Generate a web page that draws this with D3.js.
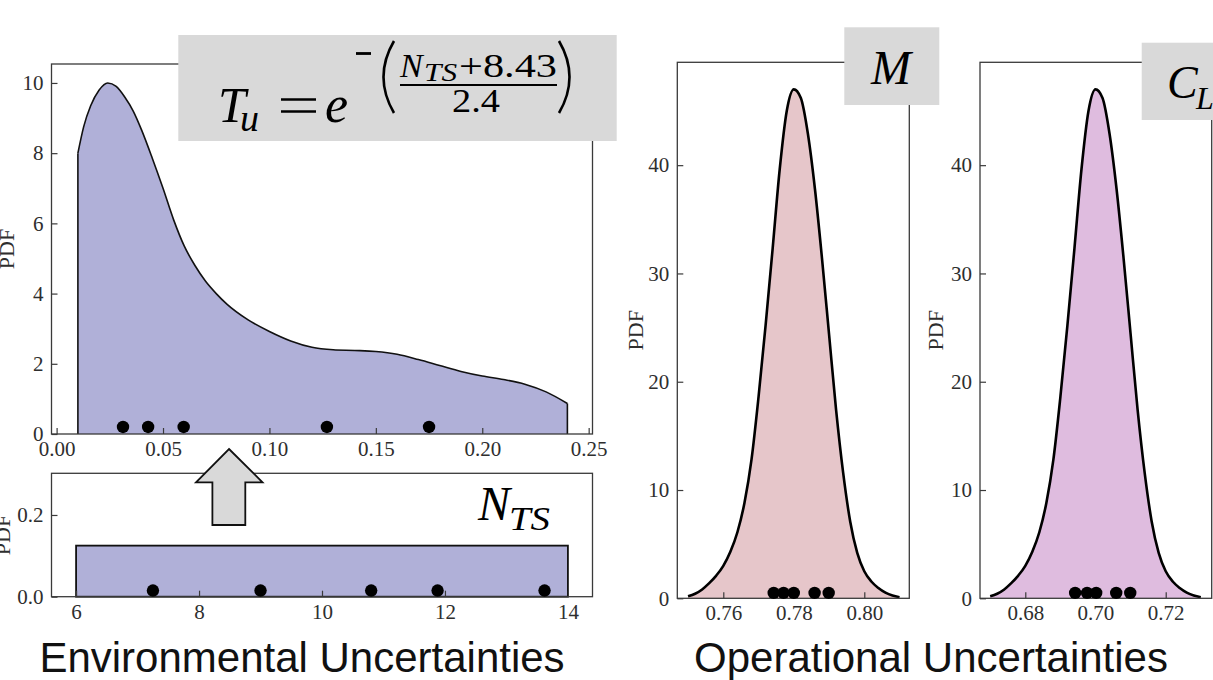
<!DOCTYPE html>
<html>
<head>
<meta charset="utf-8">
<script src="https://cdn.jsdelivr.net/npm/d3@7"></script>
<style>
  html, body { margin: 0; padding: 0; background: #ffffff; }
  svg { display: block; }
</style>
</head>
<body>
<svg id="chart" width="1213" height="680"></svg>
<script>
// ---------------- DATA ----------------
// Tu (top-left) density curve
const tuX   = [0.010, 0.0127, 0.016, 0.020, 0.024, 0.028, 0.032, 0.036, 0.040, 0.045, 0.050, 0.055, 0.060, 0.065, 0.070, 0.075, 0.080, 0.090, 0.100, 0.110, 0.120, 0.130, 0.140, 0.150, 0.160, 0.170, 0.180, 0.190, 0.200, 0.210, 0.220, 0.230, 0.240];
const tuPdf = [8.0, 8.75, 9.35, 9.8, 10.0, 9.9, 9.6, 9.2, 8.65, 7.85, 7.0, 6.1, 5.35, 4.8, 4.35, 4.0, 3.7, 3.25, 2.92, 2.65, 2.47, 2.4, 2.38, 2.35, 2.27, 2.12, 1.95, 1.78, 1.65, 1.55, 1.42, 1.2, 0.87];
const tuSamples = [0.0312, 0.0430, 0.0597, 0.1270, 0.1750];
const tuSampleLevel = 0.2;
const tuXTicks = [0.00, 0.05, 0.10, 0.15, 0.20, 0.25];
const tuYTicks = [0, 2, 4, 6, 8, 10];

// N_TS (bottom-left) uniform density
const ntsRange = [6, 14];
const ntsPdf = 0.125;
const ntsSamples = [7.25, 9.0, 10.8, 11.88, 13.62];
const ntsSampleLevel = 0.015;
const ntsXTicks = [6, 8, 10, 12, 14];
const ntsYTicks = [0.0, 0.2];

// M density
const mX   = [0.750, 0.752, 0.754, 0.756, 0.758, 0.760, 0.762, 0.764, 0.766, 0.768, 0.770, 0.772, 0.774, 0.776, 0.778, 0.780, 0.782, 0.784, 0.786, 0.788, 0.790, 0.792, 0.794, 0.796, 0.798, 0.800, 0.802, 0.804, 0.806, 0.808, 0.810];
const mPdf = [0.18, 0.42, 0.82, 1.4, 2.1, 3.0, 4.3, 6.1, 8.8, 12.8, 18.6, 25.2, 32.3, 39.6, 45.0, 47.0, 46.2, 42.9, 37.8, 31.4, 24.4, 17.4, 11.6, 7.1, 4.2, 2.5, 1.55, 0.95, 0.52, 0.25, 0.1];
const mSamples = [0.7743, 0.7771, 0.7800, 0.7859, 0.7899];
const mSampleLevel = 0.5;
const mXTicks = [0.76, 0.78, 0.80];
const mYTicks = [0, 10, 20, 30, 40];

// C_L density
const clX   = [0.670, 0.672, 0.674, 0.676, 0.678, 0.680, 0.682, 0.684, 0.686, 0.688, 0.690, 0.692, 0.694, 0.696, 0.698, 0.700, 0.702, 0.704, 0.706, 0.708, 0.710, 0.712, 0.714, 0.716, 0.718, 0.720, 0.722, 0.724, 0.726, 0.728, 0.730];
const clPdf = [0.18, 0.42, 0.82, 1.4, 2.1, 3.0, 4.3, 6.1, 8.8, 12.8, 18.6, 25.2, 32.3, 39.6, 45.0, 47.0, 46.2, 42.9, 37.8, 31.4, 24.4, 17.4, 11.6, 7.1, 4.2, 2.5, 1.55, 0.95, 0.52, 0.25, 0.1];
const clSamples = [0.6942, 0.6976, 0.7002, 0.7059, 0.7099];
const clSampleLevel = 0.5;
const clXTicks = [0.68, 0.70, 0.72];
const clYTicks = [0, 10, 20, 30, 40];

const yLabel = "PDF";
const leftTitle = "Environmental Uncertainties";
const rightTitle = "Operational Uncertainties";

// ---------------- DRAW ----------------
const svg = d3.select("#chart");
const SERIF = "'Liberation Serif', 'DejaVu Serif', serif";
const SANS = "'Liberation Sans', Arial, sans-serif";
const SPINE = "#3a3a3a";
const TICKTXT = "#2e2e2e";

function makePanel(cfg) {
  const x = d3.scaleLinear().domain(cfg.xDomain).range([cfg.left, cfg.right]);
  const y = d3.scaleLinear().domain(cfg.yDomain).range([cfg.bottom, cfg.top]);
  const g = svg.append("g");
  return {x, y, g, cfg};
}

function finishPanel(p, opts) {
  const {x, y, g, cfg} = p;
  g.append("rect")
    .attr("x", cfg.left).attr("y", cfg.top)
    .attr("width", cfg.right - cfg.left).attr("height", cfg.bottom - cfg.top)
    .attr("fill", "none").attr("stroke", SPINE).attr("stroke-width", 1.3);
  const ax = g.append("g").attr("transform", `translate(0,${cfg.bottom})`)
    .call(d3.axisBottom(x).tickValues(opts.xTicks).tickFormat(opts.xFmt)
      .tickSizeInner(-6).tickSizeOuter(0).tickPadding(7));
  const ay = g.append("g").attr("transform", `translate(${cfg.left},0)`)
    .call(d3.axisLeft(y).tickValues(opts.yTicks).tickFormat(opts.yFmt)
      .tickSizeInner(-6).tickSizeOuter(0).tickPadding(8));
  [ax, ay].forEach(a => {
    a.select(".domain").remove();
    a.selectAll(".tick line").attr("stroke", SPINE).attr("stroke-width", 1.2);
    a.selectAll(".tick text").attr("fill", TICKTXT)
      .style("font-family", SERIF).style("font-size", "21px");
  });
  g.append("text")
    .attr("transform", `translate(${opts.ylabX},${(cfg.top + cfg.bottom) / 2}) rotate(-90)`)
    .attr("text-anchor", "middle")
    .attr("fill", TICKTXT)
    .style("font-family", SERIF).style("font-size", "22px")
    .text(yLabel);
}

function drawDots(p, xs, level) {
  p.g.selectAll(null).data(xs).enter().append("circle")
    .attr("cx", d => p.x(d)).attr("cy", p.y(level)).attr("r", 6.2)
    .attr("fill", "#000");
}

// ---- Panel 1: Tu ----
const p1 = makePanel({left: 51.5, right: 592.5, top: 64, bottom: 434,
  xDomain: [-0.0024, 0.2518], yDomain: [0, 10.54]});
const tuData = tuX.map((v, i) => [v, tuPdf[i]]);
p1.g.append("path").datum(tuData)
  .attr("d", d3.area().x(d => p1.x(d[0])).y0(p1.y(0)).y1(d => p1.y(d[1])).curve(d3.curveMonotoneX))
  .attr("fill", "#b0b0d8");
p1.g.append("path").datum(tuData)
  .attr("d", d3.line().x(d => p1.x(d[0])).y(d => p1.y(d[1])).curve(d3.curveMonotoneX))
  .attr("fill", "none").attr("stroke", "#111").attr("stroke-width", 1.6);
[tuData[0], tuData[tuData.length - 1]].forEach(d => {
  p1.g.append("line")
    .attr("x1", p1.x(d[0])).attr("x2", p1.x(d[0]))
    .attr("y1", p1.y(0)).attr("y2", p1.y(d[1]))
    .attr("stroke", "#111").attr("stroke-width", 1.6);
});
finishPanel(p1, {xTicks: tuXTicks, yTicks: tuYTicks, xFmt: d3.format(".2f"), yFmt: d3.format("d"), ylabX: 14});
drawDots(p1, tuSamples, tuSampleLevel);

// ---- Panel 2: N_TS ----
const p2 = makePanel({left: 51.5, right: 592.5, top: 473.3, bottom: 596.7,
  xDomain: [5.6, 14.4], yDomain: [0, 0.302]});
p2.g.append("rect")
  .attr("x", p2.x(ntsRange[0])).attr("y", p2.y(ntsPdf))
  .attr("width", p2.x(ntsRange[1]) - p2.x(ntsRange[0]))
  .attr("height", p2.y(0) - p2.y(ntsPdf))
  .attr("fill", "#b0b0d8").attr("stroke", "#111").attr("stroke-width", 1.8);
finishPanel(p2, {xTicks: ntsXTicks, yTicks: ntsYTicks, xFmt: d3.format("d"), yFmt: d3.format(".1f"), ylabX: 10});
drawDots(p2, ntsSamples, ntsSampleLevel);

// ---- Panels 3 & 4: M and C_L ----
function gaussPanel(cfg, xs, ps, fill, samples, level, xTicks, yTicks, ylabX) {
  const p = makePanel(cfg);
  const data = xs.map((v, i) => [v, ps[i]]);
  p.g.append("path").datum(data)
    .attr("d", d3.area().x(d => p.x(d[0])).y0(p.y(0)).y1(d => p.y(d[1])).curve(d3.curveMonotoneX))
    .attr("fill", fill);
  p.g.append("path").datum(data)
    .attr("d", d3.line().x(d => p.x(d[0])).y(d => p.y(d[1])).curve(d3.curveMonotoneX))
    .attr("fill", "none").attr("stroke", "#000").attr("stroke-width", 2.6);
  finishPanel(p, {xTicks, yTicks, xFmt: d3.format(".2f"), yFmt: d3.format("d"), ylabX});
  drawDots(p, samples, level);
  return p;
}
gaussPanel({left: 677.3, right: 909.3, top: 62.3, bottom: 598.3, xDomain: [0.74695, 0.81277], yDomain: [0, 49.5]},
  mX, mPdf, "#e6c6ca", mSamples, mSampleLevel, mXTicks, mYTicks, 643);
gaussPanel({left: 980, right: 1211.7, top: 62.3, bottom: 598.3, xDomain: [0.6671, 0.7331], yDomain: [0, 49.5]},
  clX, clPdf, "#dfbcdf", clSamples, clSampleLevel, clXTicks, clYTicks, 943);

// ---- Boxes with labels ----
const BOX = "#d9d9d9";
const MATH = "'Liberation Serif', 'DejaVu Serif', serif";

// Formula box
svg.append("rect").attr("x", 178.3).attr("y", 35).attr("width", 438.4).attr("height", 106).attr("fill", BOX);
const fg = svg.append("g").style("font-family", MATH).attr("fill", "#000");
fg.append("text").attr("x", 218).attr("y", 122).style("font-size", "50px").style("font-style", "italic").text("T");
fg.append("text").attr("x", 240).attr("y", 131).style("font-size", "38px").style("font-style", "italic").text("u");
fg.append("line").attr("x1", 281).attr("x2", 316).attr("y1", 99.5).attr("y2", 99.5).attr("stroke", "#000").attr("stroke-width", 2.6);
fg.append("line").attr("x1", 281).attr("x2", 316).attr("y1", 111.5).attr("y2", 111.5).attr("stroke", "#000").attr("stroke-width", 2.6);
fg.append("text").attr("x", 325).attr("y", 122).style("font-size", "52px").style("font-style", "italic").text("e");
fg.append("line").attr("x1", 356).attr("x2", 371).attr("y1", 53.5).attr("y2", 53.5).attr("stroke", "#000").attr("stroke-width", 2.8);
fg.append("path").attr("d", "M394,41 Q373,77 394,113").attr("fill", "none").attr("stroke", "#000").attr("stroke-width", 2.6);
fg.append("path").attr("d", "M559,41 Q580,77 559,113").attr("fill", "none").attr("stroke", "#000").attr("stroke-width", 2.6);
fg.append("text").attr("x", 400).attr("y", 77).style("font-size", "34px").style("font-style", "italic").text("N");
fg.append("text").attr("x", 424).attr("y", 81).style("font-size", "25px").style("font-style", "italic")
  .attr("textLength", 33).attr("lengthAdjust", "spacingAndGlyphs").text("TS");
fg.append("text").attr("x", 459).attr("y", 77).style("font-size", "34px")
  .attr("textLength", 98).attr("lengthAdjust", "spacingAndGlyphs").text("+8.43");
fg.append("line").attr("x1", 400).attr("x2", 557).attr("y1", 85).attr("y2", 85).attr("stroke", "#000").attr("stroke-width", 2);
fg.append("text").attr("x", 452).attr("y", 112).style("font-size", "34px")
  .attr("textLength", 48).attr("lengthAdjust", "spacingAndGlyphs").text("2.4");

// M box
svg.append("rect").attr("x", 844.3).attr("y", 27.3).attr("width", 95).attr("height", 77.7).attr("fill", BOX);
svg.append("text").attr("x", 891).attr("y", 84).attr("text-anchor", "middle")
  .style("font-family", MATH).style("font-size", "48px").style("font-style", "italic").text("M");

// C_L box
svg.append("rect").attr("x", 1141.7).attr("y", 42.7).attr("width", 80).attr("height", 77.3).attr("fill", BOX);
svg.append("text").attr("x", 1167).attr("y", 98).style("font-family", MATH).style("font-size", "46px").style("font-style", "italic").text("C");
svg.append("text").attr("x", 1196).attr("y", 109).style("font-family", MATH).style("font-size", "32px").style("font-style", "italic").text("L");

// N_TS label
svg.append("text").attr("x", 478).attr("y", 520).style("font-family", MATH).style("font-size", "48px").style("font-style", "italic").text("N");
svg.append("text").attr("x", 509).attr("y", 530).style("font-family", MATH).style("font-size", "34px").style("font-style", "italic")
  .attr("textLength", 41).attr("lengthAdjust", "spacingAndGlyphs").text("TS");

// Arrow (pointing up, from N_TS panel to Tu panel)
svg.append("path")
  .attr("d", "M229,449 L262.5,482.3 L245.3,482.3 L245.3,525 L212.4,525 L212.4,482.3 L196,482.3 Z")
  .attr("fill", BOX).attr("stroke", "#111").attr("stroke-width", 1.8).attr("stroke-linejoin", "miter");

// Titles
svg.append("text").attr("x", 302).attr("y", 672).attr("text-anchor", "middle")
  .style("font-family", SANS).style("font-size", "42px").attr("fill", "#111").text(leftTitle);
svg.append("text").attr("x", 931).attr("y", 672).attr("text-anchor", "middle")
  .style("font-family", SANS).style("font-size", "42px").attr("fill", "#111").text(rightTitle);
</script>
</body>
</html>
